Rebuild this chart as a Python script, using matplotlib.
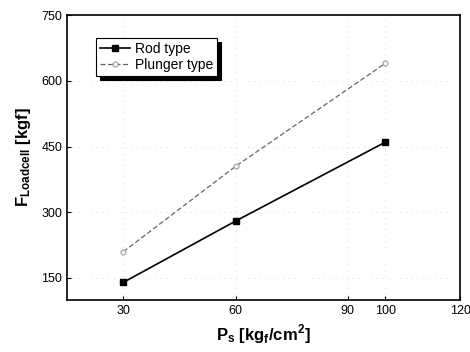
import matplotlib
matplotlib.use("Agg")
import matplotlib.pyplot as plt

plt.rcParams['font.family'] = ['Liberation Sans', 'DejaVu Sans']
plt.rcParams['mathtext.fontset'] = 'custom'
plt.rcParams['mathtext.rm'] = 'Liberation Sans'
plt.rcParams['mathtext.bf'] = 'Liberation Sans:bold'

# data
pressure = [30, 60, 100]
rod_force = [140, 280, 460]
plunger_force = [210, 405, 640]

x_ticks = [30, 60, 90, 100, 120]
y_ticks = [150, 300, 450, 600, 750]

fig = plt.figure(figsize=(4.7, 3.52), dpi=100)
ax = fig.add_axes([0.143, 0.148, 0.836, 0.809])

ax.plot(pressure, rod_force, color='black', lw=1.2, marker='s', ms=4,
        label='Rod type')
ax.plot(pressure, plunger_force, color='#666666', lw=0.9, ls=(0, (4, 2)),
        marker='o', ms=3.5, mfc='white', mec='#aaaaaa', label='Plunger type')

ax.set_xlim(15, 120)
ax.set_ylim(100, 750)
ax.set_xticks(x_ticks)
ax.set_yticks(y_ticks)
ax.tick_params(direction='in', length=3, labelsize=9, width=0.8)
ax.grid(True, ls=(0, (1, 6)), color='#cccccc', lw=0.6)
for s in ax.spines.values():
    s.set_linewidth(1.2)

ax.set_xlabel(r'$\mathbf{P_s}$ [kg$_\mathbf{f}$/cm$^\mathbf{2}$]', fontsize=12,
              fontweight='bold', labelpad=4)
ax.set_ylabel(r'$\mathbf{F_{Loadcell}}$ [kgf]', fontsize=12,
              fontweight='bold', labelpad=6)

leg = ax.legend(loc='upper left', bbox_to_anchor=(0.055, 0.945), fontsize=10,
                frameon=True, fancybox=False,
                shadow={'color': 'black', 'ox': 3, 'oy': -3, 'alpha': 1},
                handlelength=2.2, borderpad=0.3, labelspacing=0.15,
                handletextpad=0.3)
leg.get_frame().set_edgecolor('black')
leg.get_frame().set_linewidth(0.8)

fig.savefig('out.png', dpi=100)
